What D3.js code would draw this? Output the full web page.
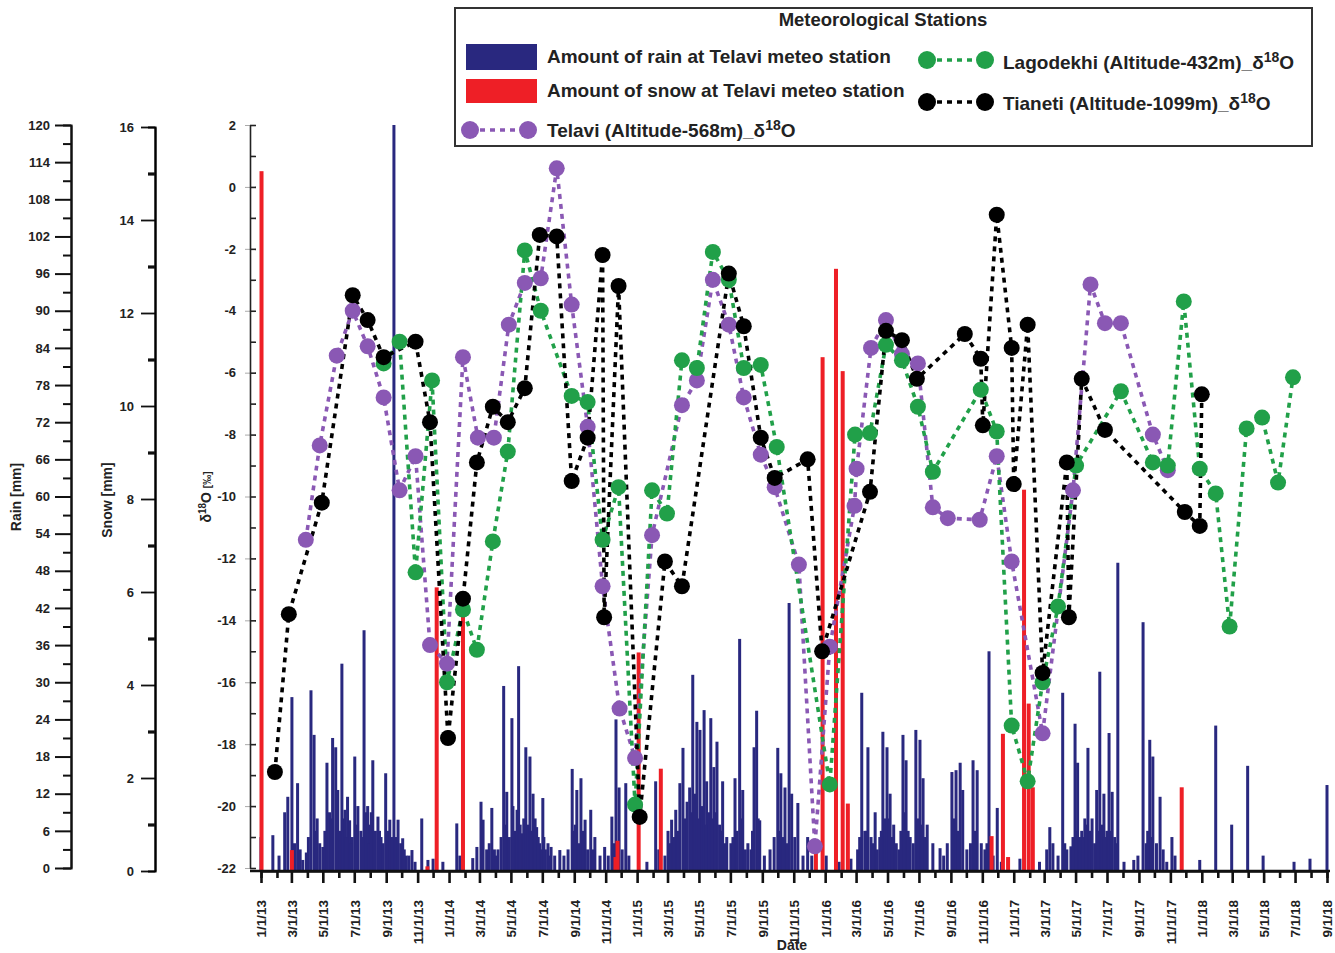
<!DOCTYPE html>
<html>
<head>
<meta charset="utf-8">
<script src="https://cdn.jsdelivr.net/npm/d3@7"></script>
<style>
body { margin: 0; background: #fff; }
svg text { font-family: "Liberation Sans", Arial, sans-serif; font-weight: bold; fill: #222; }
</style>
</head>
<body>
<div id="plot"></div>
<script>
// daily amounts at Telavi, [date, mm]
var rainData = [
  ["2013-01-01",5],["2013-01-24",5.3],["2013-02-05",2],["2013-02-16",9],["2013-02-22",11.5],
  ["2013-03-02",27.6],["2013-03-07",4],["2013-03-13",13.7],["2013-03-18",3],["2013-03-23",1.3],
  ["2013-03-30",2.5],["2013-04-08",28.7],["2013-04-14",21.5],["2013-04-20",8],["2013-04-25",4],
  ["2013-05-01",3.4],["2013-05-05",6],["2013-05-09",17],["2013-05-14",9],["2013-05-20",21],
  ["2013-05-26",19.5],["2013-05-30",12.6],["2013-06-03",6],["2013-06-07",33],["2013-06-10",8],
  ["2013-06-13",9.4],["2013-06-18",11.5],["2013-06-22",7.7],["2013-06-27",5],["2013-07-02",18],
  ["2013-07-08",10],["2013-07-14",6],["2013-07-20",38.4],["2013-07-23",9],["2013-07-27",10],
  ["2013-08-01",7],["2013-08-06",17.4],["2013-08-11",6],["2013-08-16",8.3],["2013-08-22",5],
  ["2013-08-31",15.3],["2013-09-04",6],["2013-09-08",7.8],["2013-09-16",120],["2013-09-20",5],
  ["2013-09-24",7.8],["2013-09-29",4],["2013-10-03",4.8],["2013-10-10",2],["2013-10-21",2.9],
  ["2013-10-27",1],["2013-11-09",8],["2013-11-21",1.3],["2013-12-01",1.5],["2013-12-20",1],
  ["2014-01-16",7.2],["2014-01-22",2],["2014-02-16",1.6],["2014-02-24",3.4],["2014-03-04",10.7],
  ["2014-03-08",7.8],["2014-03-15",3],["2014-03-25",9.7],["2014-03-30",3],["2014-04-06",3],
  ["2014-04-12",5],["2014-04-17",29.4],["2014-04-23",12.3],["2014-04-28",5],["2014-05-03",24.2],
  ["2014-05-08",6],["2014-05-13",9.4],["2014-05-16",32.6],["2014-05-22",5.6],["2014-05-26",8],
  ["2014-05-30",19.5],["2014-06-03",7],["2014-06-07",18],["2014-06-13",12],["2014-06-20",6.6],
  ["2014-06-26",4],["2014-07-02",11.3],["2014-07-07",3],["2014-07-12",4],["2014-07-18",3.4],
  ["2014-07-25",2],["2014-08-04",2.9],["2014-08-12",2],["2014-08-20",3],["2014-08-28",16],
  ["2014-09-01",5],["2014-09-06",12.6],["2014-09-10",4],["2014-09-14",14.5],["2014-09-22",7.8],
  ["2014-09-27",3],["2014-10-03",9.4],["2014-10-11",5],["2014-10-21",2],["2014-10-30",3.4],
  ["2014-11-06",2],["2014-11-13",8.3],["2014-11-21",24],["2014-11-27",13],["2014-12-03",3],
  ["2014-12-10",13.7],["2014-12-16",2],["2015-01-20",1],["2015-02-06",14],["2015-02-12",3],
  ["2015-02-24",2],["2015-03-02",6],["2015-03-09",7.8],["2015-03-17",9.4],["2015-03-25",13.7],
  ["2015-03-31",19.4],["2015-04-04",8],["2015-04-08",10.7],["2015-04-13",13],["2015-04-19",31.2],
  ["2015-04-23",12],["2015-04-27",23.6],["2015-05-03",22.3],["2015-05-07",10],["2015-05-11",25.5],
  ["2015-05-16",14],["2015-05-20",9],["2015-05-24",24.2],["2015-05-30",16.3],["2015-06-05",20.4],
  ["2015-06-10",7],["2015-06-16",14],["2015-06-24",5],["2015-07-02",4],["2015-07-10",14.5],
  ["2015-07-19",37],["2015-07-25",12.6],["2015-07-30",3],["2015-08-04",4],["2015-08-10",3],
  ["2015-08-16",19.5],["2015-08-21",25.4],["2015-08-27",7.7],["2015-09-05",2],["2015-09-16",3],
  ["2015-09-24",5],["2015-10-01",19.4],["2015-10-07",15.3],["2015-10-15",13],["2015-10-23",42.8],
  ["2015-10-28",12],["2015-11-03",5],["2015-11-09",10.5],["2015-11-19",2],["2015-11-28",5],
  ["2015-12-06",2],["2016-01-03",2],["2016-01-28",1],["2016-02-20",1.5],["2016-03-04",3],
  ["2016-03-12",28.3],["2016-03-18",6],["2016-03-24",19.5],["2016-03-30",5],["2016-04-07",9],
  ["2016-04-16",5],["2016-04-22",22],["2016-04-26",8],["2016-04-30",19.5],["2016-05-06",12],
  ["2016-05-13",7],["2016-05-23",3],["2016-05-31",21.5],["2016-06-06",17.4],["2016-06-14",5],
  ["2016-06-20",4],["2016-06-25",22.3],["2016-07-03",20.7],["2016-07-09",14.5],["2016-07-17",7],
  ["2016-07-28",4],["2016-08-11",3.2],["2016-08-18",2],["2016-08-25",4],["2016-09-03",15.5],
  ["2016-09-07",8],["2016-09-11",15.8],["2016-09-19",17],["2016-09-24",12.6],["2016-10-02",3],
  ["2016-10-09",4],["2016-10-14",17.4],["2016-10-22",15.8],["2016-10-30",4],["2016-11-06",3],
  ["2016-11-14",35],["2016-11-22",2],["2016-11-30",9.7],["2016-12-08",1],["2017-01-13",1.5],
  ["2017-02-20",1],["2017-03-06",3],["2017-03-12",6.6],["2017-03-18",4],["2017-03-28",2],
  ["2017-04-06",28.3],["2017-04-14",3],["2017-04-22",3.5],["2017-04-30",23.3],["2017-05-05",17],
  ["2017-05-09",5],["2017-05-13",6],["2017-05-19",8],["2017-05-25",19.4],["2017-05-29",6],
  ["2017-06-02",8],["2017-06-07",4],["2017-06-11",12.6],["2017-06-17",31.7],["2017-06-21",7],
  ["2017-06-25",12],["2017-07-01",6],["2017-07-05",21.8],["2017-07-11",12.3],["2017-07-16",5],
  ["2017-07-22",49.3],["2017-08-03",1],["2017-08-22",1.3],["2017-08-30",2],["2017-09-09",39.7],
  ["2017-09-15",4],["2017-09-22",20.7],["2017-09-28",18],["2017-10-05",4],["2017-10-12",11.5],
  ["2017-10-18",3],["2017-10-25",1],["2017-11-04",5],["2017-11-10",2],["2017-12-28",1.3],
  ["2018-01-28",23],["2018-02-28",7],["2018-03-31",16.5],["2018-04-30",2],["2018-06-29",1],
  ["2018-07-30",1.5],["2018-09-01",13.4],
  // smaller days between the peaks
  ["2013-04-03",5],["2013-04-17",6],["2013-05-17",8],["2013-06-15",5],["2013-06-25",4],
  ["2013-07-05",7],["2013-07-17",5],["2013-07-30",4],["2013-08-03",9],["2013-08-19",6],
  ["2013-08-26",4],["2013-09-12",5],["2013-10-06",3],["2013-10-15",2],
  ["2014-03-20",4],["2014-04-02",2],["2014-04-20",7],["2014-05-05",10],["2014-05-19",7],
  ["2014-06-10",6],["2014-06-17",8],["2014-06-23",5],["2014-06-30",3],["2014-07-04",5],
  ["2014-07-15",2],["2014-08-31",6],["2014-09-03",7],["2014-09-18",6],["2014-10-07",3],
  ["2014-11-17",4],
  ["2015-03-05",4],["2015-03-13",5],["2015-03-21",6],["2015-04-16",9],["2015-05-01",8],
  ["2015-05-14",7],["2015-05-27",8],["2015-06-02",9],["2015-06-13",6],["2015-06-20",4],
  ["2015-07-06",5],["2015-07-14",6],["2015-07-22",8],["2015-08-13",6],["2015-08-24",8],
  ["2015-10-04",6],["2015-10-11",5],["2015-10-19",4],
  ["2016-03-08",5],["2016-03-21",6],["2016-04-03",4],["2016-04-11",3],["2016-04-19",6],
  ["2016-05-03",8],["2016-05-09",5],["2016-05-18",4],["2016-05-27",6],["2016-06-02",9],
  ["2016-06-10",6],["2016-06-29",8],["2016-07-06",7],["2016-07-13",5],["2016-09-15",6],
  ["2016-10-18",6],["2016-11-10",4],["2016-11-18",3],
  ["2017-04-10",4],["2017-04-26",5],["2017-05-02",6],["2017-05-16",5],["2017-05-22",7],
  ["2017-06-14",6],["2017-06-28",5],["2017-07-08",6],["2017-07-19",4],["2017-09-18",6],
  ["2017-09-25",5]
];

var snowData = [
  ["2013-01-02",15.05],["2013-03-02",0.45],["2013-11-20",0.1],["2013-12-08",6.1],
  ["2014-01-28",5.75],["2014-11-20",0.3],["2014-11-24",0.65],["2015-01-04",4.7],
  ["2015-02-16",2.2],["2015-12-14",0.45],["2015-12-27",11.05],["2016-01-22",12.95],
  ["2016-02-04",10.75],["2016-02-14",1.45],["2016-11-19",0.75],["2016-12-11",2.95],
  ["2016-12-21",0.3],["2017-01-21",8.2],["2017-01-30",3.6],["2017-02-07",1.8],
  ["2017-11-23",1.8]
];

// δ18O, [date, ‰]
var telavi = [
  ["2013-03-29",-11.4],["2013-04-25",-8.35],["2013-05-28",-5.45],["2013-06-28",-4.0],
  ["2013-07-27",-5.15],["2013-08-27",-6.8],["2013-09-27",-9.8],["2013-10-28",-8.7],
  ["2013-11-25",-14.8],["2013-12-28",-15.4],["2014-01-28",-5.5],["2014-02-26",-8.1],
  ["2014-03-29",-8.1],["2014-04-27",-4.45],["2014-05-28",-3.1],["2014-06-28",-2.95],
  ["2014-07-29",0.6],["2014-08-27",-3.8],["2014-09-27",-7.75],["2014-10-26",-12.9],
  ["2014-11-28",-16.85],["2014-12-28",-18.45],["2015-01-30",-11.25],["2015-03-29",-7.05],
  ["2015-04-27",-6.25],["2015-05-28",-3.0],["2015-06-28",-4.45],["2015-07-27",-6.8],
  ["2015-08-29",-8.65],["2015-09-25",-9.7],["2015-11-11",-12.2],["2015-12-12",-21.3],
  ["2016-01-10",-14.85],["2016-02-27",-10.3],["2016-03-02",-9.1],["2016-03-30",-5.2],
  ["2016-04-28",-4.3],["2016-05-29",-5.4],["2016-06-29",-5.7],["2016-07-28",-10.35],
  ["2016-08-26",-10.7],["2016-10-27",-10.75],["2016-11-29",-8.7],["2016-12-28",-12.1],
  ["2017-02-26",-17.65],["2017-04-26",-9.8],["2017-05-30",-3.15],["2017-06-27",-4.4],
  ["2017-07-28",-4.4],["2017-09-28",-8.0],["2017-10-27",-9.15]
];

var lagodekhi = [
  ["2013-08-27",-5.7],["2013-09-27",-5.0],["2013-10-28",-12.45],["2013-11-29",-6.25],
  ["2013-12-28",-16.0],["2014-01-28",-13.65],["2014-02-24",-14.95],["2014-03-27",-11.45],
  ["2014-04-25",-8.55],["2014-05-28",-2.05],["2014-06-28",-4.0],["2014-08-27",-6.75],
  ["2014-09-27",-6.95],["2014-10-26",-11.4],["2014-11-26",-9.7],["2014-12-28",-19.95],
  ["2015-01-30",-9.8],["2015-02-28",-10.55],["2015-03-29",-5.6],["2015-04-27",-5.85],
  ["2015-05-28",-2.1],["2015-06-28",-3.0],["2015-07-27",-5.85],["2015-08-29",-5.75],
  ["2015-09-29",-8.4],["2016-01-10",-19.3],["2016-02-28",-8.0],["2016-03-28",-7.95],
  ["2016-04-28",-5.1],["2016-05-29",-5.6],["2016-06-29",-7.1],["2016-07-28",-9.2],
  ["2016-10-29",-6.55],["2016-11-29",-7.9],["2016-12-28",-17.4],["2017-01-28",-19.2],
  ["2017-02-26",-16.0],["2017-03-28",-13.55],["2017-05-02",-9.0],["2017-07-28",-6.6],
  ["2017-09-28",-8.9],["2017-10-27",-9.0],["2017-11-27",-3.7],["2017-12-28",-9.1],
  ["2018-01-28",-9.9],["2018-02-24",-14.2],["2018-03-29",-7.8],["2018-04-28",-7.45],
  ["2018-05-29",-9.55],["2018-06-27",-6.15]
];

var tianeti = [
  ["2013-01-28",-18.9],["2013-02-24",-13.8],["2013-04-29",-10.2],["2013-06-28",-3.5],
  ["2013-07-27",-4.3],["2013-08-27",-5.5],["2013-10-28",-5.0],["2013-11-25",-7.6],
  ["2013-12-30",-17.8],["2014-01-28",-13.3],["2014-02-24",-8.9],["2014-03-27",-7.1],
  ["2014-04-25",-7.6],["2014-05-28",-6.5],["2014-06-26",-1.55],["2014-07-29",-1.6],
  ["2014-08-27",-9.5],["2014-09-27",-8.1],["2014-10-26",-2.2],["2014-10-29",-13.9],
  ["2014-11-26",-3.2],["2015-01-06",-20.35],["2015-02-24",-12.1],["2015-03-29",-12.9],
  ["2015-06-28",-2.8],["2015-07-27",-4.5],["2015-08-29",-8.1],["2015-09-25",-9.4],
  ["2015-11-28",-8.8],["2015-12-26",-15.0],["2016-03-28",-9.85],["2016-04-28",-4.65],
  ["2016-05-29",-4.95],["2016-06-27",-6.2],["2016-09-28",-4.75],["2016-10-29",-5.55],
  ["2016-11-02",-7.7],["2016-11-29",-0.9],["2016-12-28",-5.2],["2017-01-01",-9.6],
  ["2017-01-28",-4.45],["2017-02-26",-15.7],["2017-04-14",-8.9],["2017-04-18",-13.9],
  ["2017-05-13",-6.2],["2017-06-27",-7.85],["2017-11-29",-10.5],["2017-12-28",-10.95],
  ["2018-01-01",-6.7]
];

var rainTicks = d3.range(0, 121, 6),
    snowTicks = d3.range(0, 17, 2),
    isoTicks = d3.range(-22, 3, 2);

var colors = {
  rain: "#29287f",
  snow: "#ee1f26",
  telavi: "#8a58b4",
  lagodekhi: "#21a049",
  tianeti: "#000"
};

var svg = d3.select("#plot")
            .append("svg")
            .attr("width", 1335)
            .attr("height", 953);

var parse = d3.timeParse("%Y-%m-%d");

var x = d3.scaleTime()
          .domain([parse("2013-01-01"), parse("2018-09-01")])
          .range([261, 1327]),
    yRain = d3.scaleLinear().domain([0, 120]).range([868, 125]),
    ySnow = d3.scaleLinear().domain([0, 16]).range([871, 127]),
    yIso = d3.scaleLinear().domain([-22, 2]).range([868, 125]);

// ---- bars
svg.append("g").selectAll(".rain")
    .data(rainData)
    .enter().append("rect")
    .attr("class", "rain")
    .attr("x", function(d){ return x(parse(d[0])) - 1.5; })
    .attr("y", function(d){ return yRain(d[1]); })
    .attr("width", 3)
    .attr("height", function(d){ return yRain(0) - yRain(d[1]) + 2; })
    .style("fill", colors.rain);

svg.append("g").selectAll(".snow")
    .data(snowData)
    .enter().append("rect")
    .attr("class", "snow")
    .attr("x", function(d){ return x(parse(d[0])) - 2; })
    .attr("y", function(d){ return ySnow(d[1]); })
    .attr("width", 4)
    .attr("height", function(d){ return ySnow(0) - ySnow(d[1]); })
    .style("fill", colors.snow);

// ---- isotope series
var series = [
  { data: telavi, color: colors.telavi },
  { data: lagodekhi, color: colors.lagodekhi },
  { data: tianeti, color: colors.tianeti }
];

var line = d3.line()
    .x(function(d){ return x(parse(d[0])); })
    .y(function(d){ return yIso(d[1]); });

svg.append("g").selectAll(".iso-line")
    .data(series)
    .enter().append("path")
    .attr("class", "iso-line")
    .attr("d", function(s){ return line(s.data); })
    .style("fill", "none")
    .style("stroke", function(s){ return s.color; })
    .style("stroke-width", 3.6)
    .style("stroke-dasharray", "5,5");

series.forEach(function(s){
  svg.append("g").selectAll("circle")
      .data(s.data)
      .enter().append("circle")
      .attr("cx", function(d){ return x(parse(d[0])); })
      .attr("cy", function(d){ return yIso(d[1]); })
      .attr("r", 8)
      .style("fill", s.color);
});

// ---- axes
function styleAxis(g, width) {
  g.selectAll("path, line").style("stroke", "#111").style("stroke-width", width);
  g.selectAll("text").style("font-size", "13px").style("fill", "#222");
}

var gRain = svg.append("g").attr("transform", "translate(71,0)");
gRain.call(d3.axisLeft(yRain).tickValues(rainTicks).tickSize(16).tickSizeOuter(0).tickPadding(5));
gRain.append("g").call(d3.axisLeft(yRain).tickValues(d3.range(3, 120, 6)).tickSize(8).tickFormat(""));
styleAxis(gRain, 2);

var gSnow = svg.append("g").attr("transform", "translate(155,0)");
gSnow.call(d3.axisLeft(ySnow).tickValues(snowTicks).tickSize(14).tickSizeOuter(0).tickPadding(7));
styleAxis(gSnow, 1.8);
gSnow.append("g").call(d3.axisLeft(ySnow).tickValues(d3.range(1, 16, 2)).tickSize(7).tickFormat(""))
    .selectAll("line").style("stroke", "#111").style("stroke-width", 3.2);
gSnow.selectAll(".domain").style("stroke-width", 2);

var gIso = svg.append("g").attr("transform", "translate(250,0)");
gIso.call(d3.axisLeft(yIso).tickValues(isoTicks).tickSize(5).tickSizeOuter(0).tickPadding(9)
    .tickFormat(function(d){ return String(d); }));
styleAxis(gIso, 1);
gIso.selectAll(".tick line").style("stroke", "#aaa");
gIso.append("g").call(d3.axisRight(yIso).tickValues(d3.range(-22, 3, 1)).tickSize(6).tickSizeOuter(0).tickFormat(""))
    .selectAll("path, line").style("stroke", "#222").style("stroke-width", 1.6);

var gX = svg.append("g").attr("transform", "translate(0,871)");
gX.call(d3.axisBottom(x).ticks(d3.timeMonth.every(2)).tickSize(12).tickSizeOuter(0)
    .tickFormat(d3.timeFormat("%-m/%-d/%y")));
gX.append("g").call(d3.axisBottom(x)
    .tickValues(d3.timeMonth.range(parse("2013-02-01"), parse("2018-09-01"), 2))
    .tickSize(7).tickFormat(""));
gX.select(".domain").attr("d", "M250,0H1330");
styleAxis(gX, 2.6);
gX.selectAll(".domain").style("stroke-width", 2.4);
gX.selectAll(".tick text")
    .attr("transform", "rotate(-90)")
    .attr("x", -29)
    .attr("y", 0)
    .attr("dy", "0.36em")
    .style("text-anchor", "end")
    .style("font-size", "13.5px");

// ---- axis titles
svg.append("text")
    .attr("transform", "translate(21,497) rotate(-90)")
    .style("text-anchor", "middle")
    .style("font-size", "14px")
    .text("Rain [mm]");
svg.append("text")
    .attr("transform", "translate(112,500) rotate(-90)")
    .style("text-anchor", "middle")
    .style("font-size", "14px")
    .text("Snow [mm]");
var isoTitle = svg.append("text")
    .attr("transform", "translate(211,497) rotate(-90)")
    .style("text-anchor", "middle")
    .style("font-size", "14px");
isoTitle.append("tspan").text("δ");
isoTitle.append("tspan").attr("dy", -5).style("font-size", "10px").text("18");
isoTitle.append("tspan").attr("dy", 5).text("O ");
isoTitle.append("tspan").style("font-size", "10px").text("[‰]");

svg.append("text")
    .attr("x", 792)
    .attr("y", 950)
    .style("text-anchor", "middle")
    .style("font-size", "14px")
    .text("Date");

// ---- legend
var legend = svg.append("g");
legend.append("rect")
    .attr("x", 455).attr("y", 8)
    .attr("width", 857).attr("height", 138)
    .style("fill", "#fff")
    .style("stroke", "#333")
    .style("stroke-width", 2);
legend.append("text")
    .attr("x", 883).attr("y", 26)
    .style("text-anchor", "middle")
    .style("font-size", "18.5px")
    .text("Meteorological Stations");

legend.append("rect").attr("x", 466).attr("y", 44).attr("width", 71).attr("height", 26).style("fill", colors.rain);
legend.append("rect").attr("x", 466).attr("y", 79).attr("width", 71).attr("height", 24).style("fill", colors.snow);

function legendText(xp, yp, label, iso) {
  var t = legend.append("text").attr("x", xp).attr("y", yp).style("font-size", "19px");
  t.append("tspan").text(label);
  if (iso) {
    t.append("tspan").text("δ");
    t.append("tspan").attr("dy", -7).style("font-size", "14px").text("18");
    t.append("tspan").attr("dy", 7).text("O");
  }
}
function legendLine(x1, x2, yp, color) {
  legend.append("line")
      .attr("x1", x1).attr("x2", x2).attr("y1", yp).attr("y2", yp)
      .style("stroke", color).style("stroke-width", 3.6).style("stroke-dasharray", "5,5");
  legend.selectAll(null).data([x1, x2]).enter().append("circle")
      .attr("cx", function(d){ return d; }).attr("cy", yp).attr("r", 9)
      .style("fill", color);
}

legendText(547, 63, "Amount of rain at Telavi meteo station", false);
legendText(547, 97, "Amount of snow at Telavi meteo station", false);
legendLine(470, 528, 130, colors.telavi);
legendText(547, 137, "Telavi (Altitude-568m)_", true);
legendLine(927, 985, 60, colors.lagodekhi);
legendText(1003, 69, "Lagodekhi (Altitude-432m)_", true);
legendLine(927, 985, 102, colors.tianeti);
legendText(1003, 110, "Tianeti (Altitude-1099m)_", true);
</script>
</body>
</html>
